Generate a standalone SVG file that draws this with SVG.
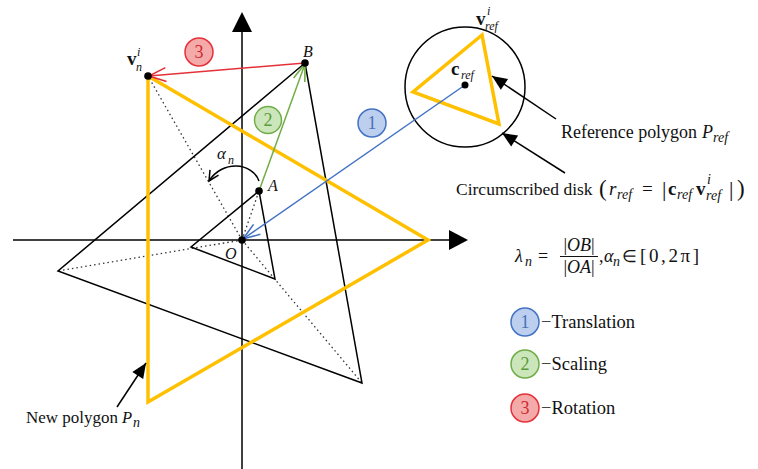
<svg xmlns="http://www.w3.org/2000/svg" width="758" height="469" viewBox="0 0 758 469">
<style>
text{font-family:"Liberation Serif","Times New Roman",serif;fill:#111}
.it{font-style:italic}
.bd{font-weight:bold}
.ln{stroke:#000;stroke-width:1.5;fill:none}
.dot{stroke:#333;stroke-width:1.3;stroke-dasharray:1.5 3;fill:none}
.yel{stroke:#FFC000;stroke-width:3.5;fill:none;stroke-linejoin:miter}
.pt{fill:#000}
.num{font-size:18px;text-anchor:middle}
.lab{font-size:17.5px}
.sub{font-size:12px}
.msub{font-size:14px;font-style:italic}
</style>
<defs>
<marker id="mBlue" markerUnits="userSpaceOnUse" markerWidth="22" markerHeight="22" viewBox="-19 -11 22 22" refX="0" refY="0" orient="auto"><path d="M-17,-6 L0,0 L-17,6" fill="none" stroke="#4472C4" stroke-width="1.6"/></marker>
<marker id="mGreen" markerUnits="userSpaceOnUse" markerWidth="22" markerHeight="22" viewBox="-19 -11 22 22" refX="0" refY="0" orient="auto"><path d="M-17,-6 L0,0 L-17,6" fill="none" stroke="#70AD47" stroke-width="1.6"/></marker>
<marker id="mRed" markerUnits="userSpaceOnUse" markerWidth="22" markerHeight="22" viewBox="-19 -11 22 22" refX="0" refY="0" orient="auto"><path d="M-17,-7 L0,0 L-17,7" fill="none" stroke="#E5303A" stroke-width="1.6"/></marker>
<marker id="mAng" markerUnits="userSpaceOnUse" markerWidth="16" markerHeight="16" viewBox="-12 -8 16 16" refX="0" refY="0" orient="auto"><path d="M-10,-5 L0,0 L-10,5" fill="none" stroke="#000" stroke-width="1.5"/></marker>
<marker id="mFill" markerUnits="userSpaceOnUse" markerWidth="20" markerHeight="20" viewBox="-17 -10 20 20" refX="0" refY="0" orient="auto"><path d="M-15,-6.5 L0,0 L-15,6.5 Z" fill="#000"/></marker>
</defs>
<rect width="758" height="469" fill="#fff"/>

<g id="axes">
<line class="ln" x1="13" y1="240" x2="452" y2="240" stroke-width="1.8"/>
<polygon points="468,240 449,230 449,250" fill="#000"/>
<line class="ln" x1="242" y1="469" x2="242" y2="30" stroke-width="1.8"/>
<polygon points="242,12 232,32 252,32" fill="#000"/>
</g>

<g id="dotted-guides">
<line class="dot" x1="242" y1="240" x2="58" y2="271"/>
<line class="dot" x1="242" y1="240" x2="362" y2="383"/>
<line class="dot" x1="242" y1="240" x2="148" y2="76"/>
<line class="dot" x1="242" y1="240" x2="259" y2="191"/>
</g>

<g id="original-polygon">
<polygon class="ln" points="259,191 191,247 275,279"/>
</g>

<g id="scaled-polygon">
<polygon class="ln" points="305,63 58,271 362,383"/>
</g>

<g id="new-polygon">
<polygon class="yel" points="148,76 428,240 148,402"/>
</g>

<g id="reference-polygon">
<circle cx="465" cy="87" r="60" class="ln"/>
<polygon class="yel" points="482,35 413,92 499,124"/>
</g>

<g id="connectors">
<line x1="465" y1="85" x2="243" y2="239" stroke="#4472C4" stroke-width="1.5" marker-end="url(#mBlue)"/>
<line x1="259" y1="191" x2="305" y2="64" stroke="#70AD47" stroke-width="1.5" marker-end="url(#mGreen)"/>
<line x1="305" y1="63" x2="149" y2="76" stroke="#E5303A" stroke-width="1.5" marker-end="url(#mRed)"/>
<path d="M259,181 C252,162 222,160 209,181" class="ln" marker-end="url(#mAng)"/>
<line x1="556" y1="119" x2="492" y2="76" class="ln" marker-end="url(#mFill)"/>
<line x1="565" y1="173" x2="502" y2="133" class="ln" marker-end="url(#mFill)"/>
<line x1="117" y1="407" x2="146" y2="363" class="ln" marker-end="url(#mFill)"/>
</g>

<g id="points">
<circle class="pt" cx="242" cy="240" r="3.8"/>
<circle class="pt" cx="259" cy="191" r="3.8"/>
<circle class="pt" cx="305" cy="63" r="3.8"/>
<circle class="pt" cx="148" cy="76" r="3.8"/>
<circle class="pt" cx="465" cy="85" r="3.5"/>
</g>

<g id="point-labels">
<text class="it" x="225" y="259" font-size="16">O</text>
<text class="it" x="268" y="191" font-size="16">A</text>
<text class="it" x="303" y="57" font-size="16">B</text>
<text x="217" y="159" font-size="17" class="it">α</text>
<text x="228" y="164" class="it sub">n</text>
<text x="127" y="65" font-size="19" class="bd">v</text>
<text x="136" y="71" class="it sub">n</text>
<text x="137" y="56" class="it sub">i</text>
<text x="476" y="25" font-size="19" class="bd">v</text>
<text x="487" y="15" class="it sub">i</text>
<text x="485" y="30" class="it sub">ref</text>
<text x="451" y="75" font-size="19" class="bd">c</text>
<text x="461" y="79" class="it sub">ref</text>
</g>

<g id="step-1">
<circle cx="372" cy="123" r="14" fill="#BCCFEE" stroke="#4472C4" stroke-width="1.5"/>
<text class="num" x="372" y="129" style="fill:#4A6FB5">1</text>
</g>
<g id="step-2">
<circle cx="268" cy="120" r="13.5" fill="#CBE6BA" stroke="#70AD47" stroke-width="1.5"/>
<text class="num" x="268" y="126" style="fill:#5C9A3A">2</text>
</g>
<g id="step-3">
<circle cx="199" cy="52" r="14" fill="#F5AAAA" stroke="#E5303A" stroke-width="1.5"/>
<text class="num" x="199" y="58" style="fill:#D0282F">3</text>
</g>

<g id="label-reference">
<text x="561" y="138" font-size="18" textLength="136" lengthAdjust="spacingAndGlyphs">Reference polygon</text>
<text class="it" x="702" y="138" font-size="18">P</text>
<text class="msub" x="713" y="142">ref</text>
</g>

<g id="label-disk">
<text class="lab" x="456" y="195">Circumscribed disk</text>
<text x="599" y="196" font-size="23">(</text>
<text class="it" x="609" y="195" font-size="19">r</text>
<text class="msub" x="617" y="199">ref</text>
<text x="642" y="195" font-size="19">=</text>
<text x="662" y="196" font-size="22">|</text>
<text class="bd" x="668" y="195" font-size="19">c</text>
<text class="msub" x="677" y="199">ref</text>
<text class="bd" x="696" y="195" font-size="19">v</text>
<text class="msub" x="707" y="184">i</text>
<text class="msub" x="706" y="200">ref</text>
<text x="729" y="196" font-size="22">|</text>
<text x="737" y="196" font-size="23">)</text>
</g>

<g id="label-lambda">
<text class="it" x="515" y="262" font-size="18">λ</text>
<text class="msub" x="525" y="266">n</text>
<text x="538" y="262" font-size="18">=</text>
<text x="579" y="251" font-size="18" text-anchor="middle">|<tspan class="it">OB</tspan>|</text>
<line x1="560" y1="256.5" x2="598" y2="256.5" stroke="#111" stroke-width="1"/>
<text x="579" y="273" font-size="18" text-anchor="middle">|<tspan class="it">OA</tspan>|</text>
<text x="599" y="262" font-size="18">,</text>
<text class="it" x="604" y="262" font-size="18">α</text>
<text class="msub" x="613" y="266">n</text>
<text x="622" y="262" font-size="17">∈</text>
<text x="640" y="262" font-size="19" textLength="59" lengthAdjust="spacing">[0,2π]</text>
</g>

<g id="label-new-polygon">
<text x="26" y="423" font-size="16.5" textLength="92" lengthAdjust="spacingAndGlyphs">New polygon</text>
<text class="it" x="122" y="423" font-size="16.5">P</text>
<text class="msub" x="133" y="427">n</text>
</g>

<g id="legend">
<circle cx="525" cy="322" r="14" fill="#BCCFEE" stroke="#4472C4" stroke-width="1.5"/>
<text class="num" x="525" y="328" style="fill:#4A6FB5">1</text>
<text x="541" y="328" font-size="18.5">−Translation</text>
<circle cx="525" cy="364" r="14" fill="#CBE6BA" stroke="#70AD47" stroke-width="1.5"/>
<text class="num" x="525" y="370" style="fill:#5C9A3A">2</text>
<text x="541" y="370" font-size="18.5">−Scaling</text>
<circle cx="525" cy="408" r="14" fill="#F5AAAA" stroke="#E5303A" stroke-width="1.5"/>
<text class="num" x="525" y="414" style="fill:#D0282F">3</text>
<text x="541" y="414" font-size="18.5">−Rotation</text>
</g>
</svg>
